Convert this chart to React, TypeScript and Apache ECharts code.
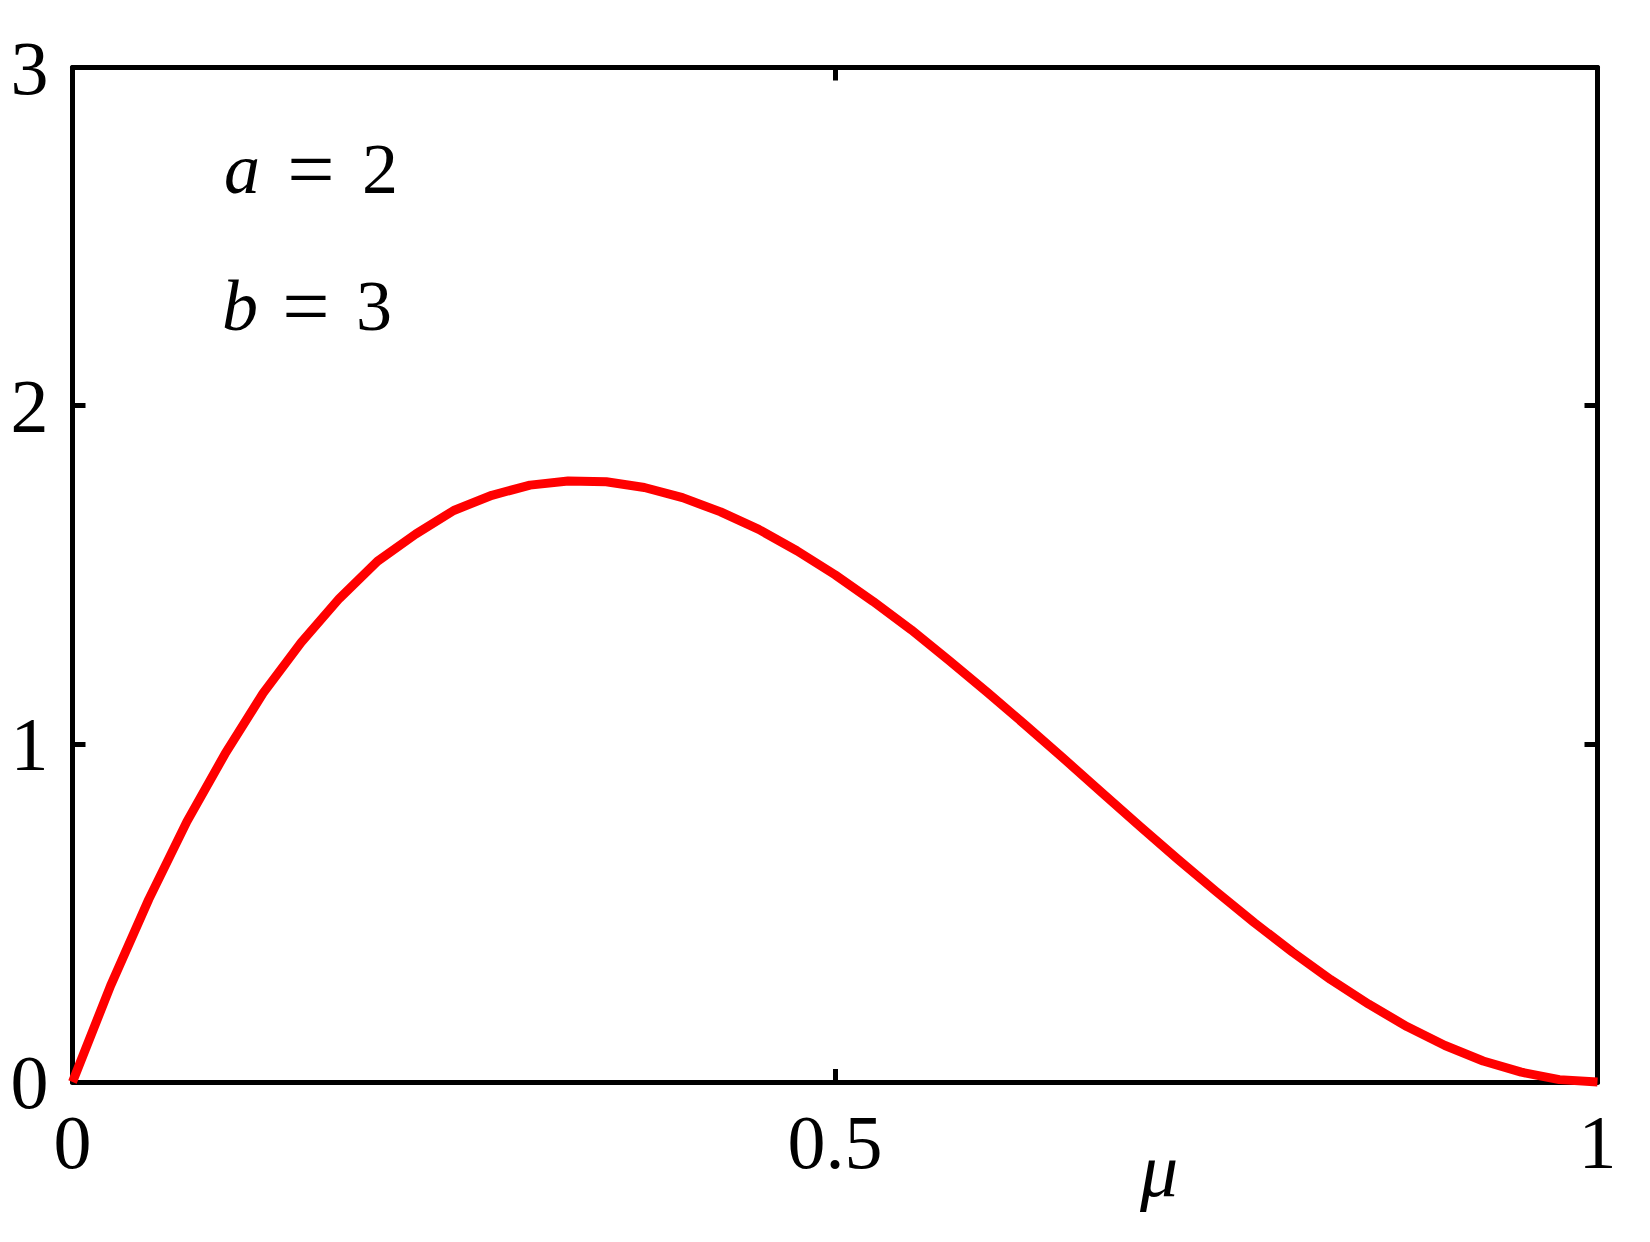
import React, { useEffect, useRef } from "react";
import * as echarts from "echarts";

const muValues = [0, 0.025, 0.05, 0.075, 0.1, 0.125, 0.15, 0.175, 0.2, 0.225, 0.25, 0.275, 0.3, 0.325, 0.35, 0.375, 0.4, 0.425, 0.45, 0.475, 0.5, 0.525, 0.55, 0.575, 0.6, 0.625, 0.65, 0.675, 0.7, 0.725, 0.75, 0.775, 0.8, 0.825, 0.85, 0.875, 0.9, 0.925, 0.95, 0.975, 1];
const densityValues = [0, 0.285, 0.54, 0.77, 0.97, 1.15, 1.3, 1.43, 1.54, 1.62, 1.69, 1.735, 1.765, 1.777, 1.775, 1.758, 1.728, 1.686, 1.634, 1.571, 1.5, 1.421, 1.337, 1.246, 1.152, 1.055, 0.956, 0.856, 0.756, 0.658, 0.563, 0.471, 0.384, 0.303, 0.23, 0.164, 0.108, 0.062, 0.029, 0.007, 0];
const xTicks = [0, 0.5, 1];
const yTicks = [0, 1, 2, 3];
const paramA = "2";
const paramB = "3";
const xName = "μ";

const FONT = "Liberation Serif";

function txt(text: string, x: number, y: number, size: number, italic: boolean, align: string) {
  return {
    type: "text",
    x,
    y,
    style: {
      text,
      fontFamily: FONT,
      fontSize: size,
      fontStyle: italic ? "italic" : "normal",
      fill: "#000",
      verticalAlign: "middle",
      align,
    },
  };
}

export default function App() {
  const ref = useRef<HTMLDivElement>(null);
  useEffect(() => {
    document.body.style.margin = "0";
    const chart = echarts.init(ref.current!, null, { renderer: "svg" });
    const axisCommon = {
      type: "value" as const,
      splitLine: { show: false },
      axisLine: { show: true, onZero: false, lineStyle: { color: "#000", width: 5 } },
      axisTick: { show: true, inside: true, length: 13, lineStyle: { color: "#000", width: 5 } },
    };
    const labelStyle = { color: "#000", fontFamily: FONT, fontSize: 76 };
    const data = muValues.map((x, i) => [x, densityValues[i]]);
    chart.setOption({
      animation: false,
      backgroundColor: "#fff",
      grid: { left: 72.5, top: 67.5, width: 1525, height: 1014.5, containLabel: false },
      xAxis: [
        {
          ...axisCommon,
          position: "bottom",
          min: xTicks[0],
          max: xTicks[xTicks.length - 1],
          interval: xTicks[1] - xTicks[0],
          axisLabel: { ...labelStyle, margin: 22, formatter: (v: number) => String(v) },
        },
        {
          ...axisCommon,
          position: "top",
          min: xTicks[0],
          max: xTicks[xTicks.length - 1],
          interval: xTicks[1] - xTicks[0],
          axisLabel: { show: false },
        },
      ],
      yAxis: [
        {
          ...axisCommon,
          position: "left",
          min: yTicks[0],
          max: yTicks[yTicks.length - 1],
          interval: yTicks[1] - yTicks[0],
          axisLabel: { ...labelStyle, margin: 24, formatter: (v: number) => String(v) },
        },
        {
          ...axisCommon,
          position: "right",
          min: yTicks[0],
          max: yTicks[yTicks.length - 1],
          interval: yTicks[1] - yTicks[0],
          axisLabel: { show: false },
        },
      ],
      graphic: [
        txt("a", 224, 169, 72, true, "left"),
        txt("=", 311, 169, 84, false, "center"),
        txt(paramA, 362, 169, 72, false, "left"),
        txt("b", 222, 306, 72, true, "left"),
        txt("=", 306, 306, 84, false, "center"),
        txt(paramB, 356, 306, 72, false, "left"),
        txt(xName, 1140, 1170, 76, true, "left"),
      ],
      series: [
        {
          type: "line",
          data,
          showSymbol: false,
          smooth: false,
          clip: false,
          lineStyle: { color: "#ff0000", width: 9, join: "round" },
          z: 1,
        },
      ],
    });
    return () => chart.dispose();
  }, []);
  return <div ref={ref} style={{ width: 1650, height: 1242 }} />;
}
